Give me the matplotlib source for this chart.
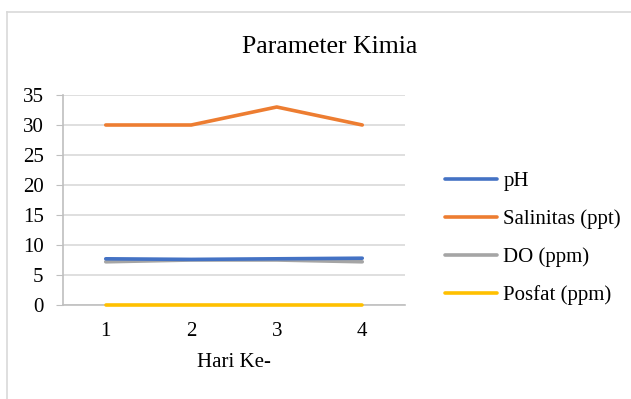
import matplotlib
matplotlib.use('Agg')
import matplotlib.pyplot as plt
from matplotlib.lines import Line2D

plt.rcParams['font.family'] = ['Liberation Serif', 'DejaVu Serif']

days = [1, 2, 3, 4]
day_labels = ['1', '2', '3', '4']
ph = [7.7, 7.6, 7.7, 7.8]
salinitas = [30, 30, 33, 30]
do_ppm = [7.2, 7.5, 7.5, 7.2]
posfat = [0.05, 0.05, 0.05, 0.05]
y_ticks = [0, 5, 10, 15, 20, 25, 30, 35]

series = [
    ('pH', ph, '#4472C4'),
    ('Salinitas (ppt)', salinitas, '#ED7D31'),
    ('DO (ppm)', do_ppm, '#A5A5A5'),
    ('Posfat (ppm)', posfat, '#FFC000'),
]

W, H = 631, 399
fig = plt.figure(figsize=(W / 100, H / 100), dpi=100)
ax = fig.add_axes([63 / W, 1 - 305 / H, (405 - 63) / W, (305 - 95) / H])

# chart area border, cut off at the right and bottom
fig.add_artist(Line2D([7 / W, 7 / W], [0, 1 - 12 / H], color='#d9d9d9', lw=1.2))
fig.add_artist(Line2D([7 / W, 1], [1 - 12 / H, 1 - 12 / H], color='#d9d9d9', lw=1.2))

# draw in reverse so pH sits on top of DO
for name, vals, color in reversed(series):
    ax.plot(days, vals, color=color, lw=2.6, solid_capstyle='round',
            label=name, zorder=3, clip_on=False)

ax.set_xlim(0.5, 4.5)
ax.set_ylim(0, 35)
ax.set_yticks(y_ticks)
ax.set_xticks(days)
ax.set_xticklabels(day_labels)
ax.yaxis.grid(True, color='#d9d9d9', lw=1.2)
ax.set_axisbelow(True)
for s in ['top', 'right']:
    ax.spines[s].set_visible(False)
ax.spines['left'].set_color('#bfbfbf')
ax.spines['bottom'].set_color('#bfbfbf')
ax.spines['left'].set_linewidth(1.2)
ax.spines['bottom'].set_linewidth(1.2)
ax.tick_params(axis='y', length=5, color='#bfbfbf', labelsize=15, pad=9)
ax.tick_params(axis='x', length=0, labelsize=15, pad=12)
ax.set_xlabel('Hari Ke-', fontsize=15, labelpad=9)

fig.text(330 / W, 1 - 47 / H, 'Parameter Kimia', ha='center', va='center', fontsize=18.5)

handles, labels = ax.get_legend_handles_labels()
leg = fig.legend(handles[::-1], labels[::-1], loc='center left',
                 bbox_to_anchor=(445 / W, 1 - 238.5 / H), frameon=False,
                 fontsize=15, handlelength=2.5, handletextpad=0.3,
                 labelspacing=0.87, borderpad=0, borderaxespad=0)

fig.savefig('out.png', dpi=100)
